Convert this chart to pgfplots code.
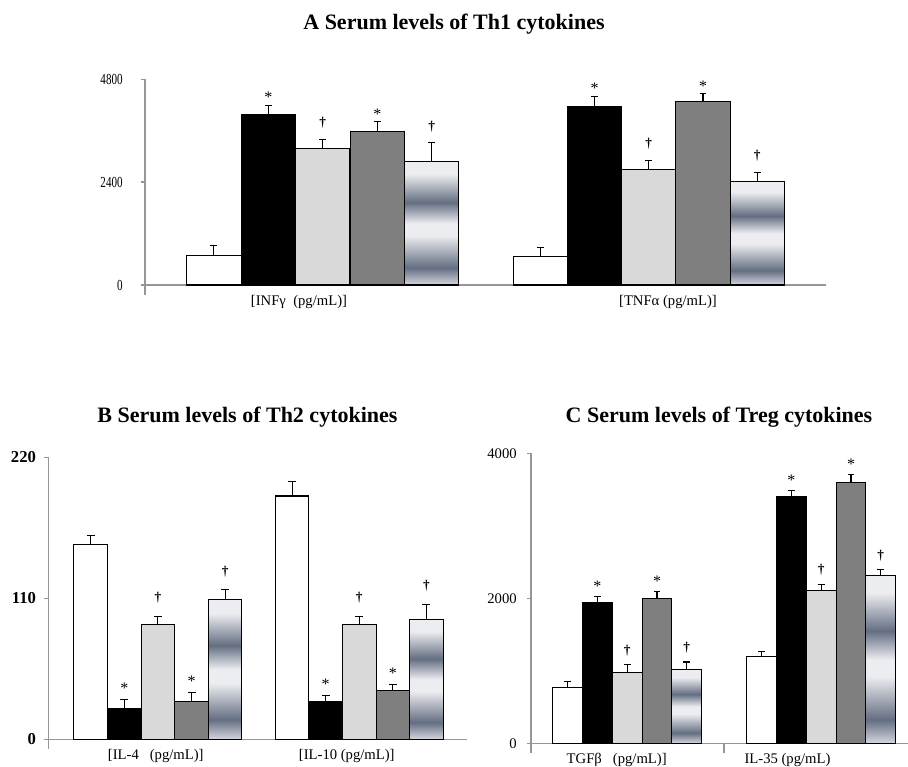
\documentclass[border=0pt]{standalone}
\usepackage{pgfplots}
\pgfplotsset{compat=1.18}
\usepackage{pgfplotstable}
\usepackage{fontspec}
\setmainfont{Liberation Serif}
\definecolor{axisgray}{RGB}{150,150,150}
\definecolor{lgray}{RGB}{217,217,217}
\definecolor{dgray}{RGB}{127,127,127}
\definecolor{bandlt}{RGB}{236,237,240}
\definecolor{bandmid}{RGB}{212,215,222}
\definecolor{banddk}{RGB}{100,110,130}
\pgfdeclareverticalshading{bands}{100bp}{%
 color(0bp)=(bandmid); color(25bp)=(bandmid); color(32bp)=(banddk); color(45bp)=(bandlt);
 color(50bp)=(bandlt); color(58.5bp)=(banddk); color(70bp)=(bandlt); color(75bp)=(bandlt); color(100bp)=(bandlt)}

% ---------- A: Th1 (x in px from y axis) ----------
\pgfplotstableread{
x y e
68.9 683 232
395.4 660 218
}\Awhite
\pgfplotstableread{
x y e
123.4 3977 217
449.6 4155 249
}\Ablack
\pgfplotstableread{
x y e
177.8 3185 217
503.8 2696 217
}\Algray
\pgfplotstableread{
x y e
232.3 3572 233
558.0 4272 194
}\Adgray
\pgfplotstableread{
x y e
286.8 2873 443
612.2 2407 210
}\Agrad
% ---------- B: Th2 ----------
\pgfplotstableread{
x y e
42.5 152.1 6.5
243.8 189.8 11.5
}\Bwhite
\pgfplotstableread{
x y e
76.1 23.9 7.3
277.4 29.3 5.0
}\Bblack
\pgfplotstableread{
x y e
109.7 89.4 6.6
311.0 89.4 6.6
}\Blgray
\pgfplotstableread{
x y e
143.3 29.1 7.3
344.6 37.7 4.7
}\Bdgray
\pgfplotstableread{
x y e
176.9 109.2 7.3
378.2 93.6 11.7
}\Bgrad
% ---------- C: Treg ----------
\pgfplotstableread{
x y e
36.6 772 74
230.6 1195 74
}\Cwhite
\pgfplotstableread{
x y e
66.4 1940 88
260.4 3397 88
}\Cblack
\pgfplotstableread{
x y e
96.2 974 110
290.2 2101 92
}\Clgray
\pgfplotstableread{
x y e
126.0 1991 106
320.0 3600 110
}\Cdgray
\pgfplotstableread{
x y e
155.8 1011 110
349.8 2308 87
}\Cgrad

\pgfplotsset{
 panel/.style={scale only axis, anchor=south west, xmin=0,
  axis y line*=left, axis x line*=middle,
  axis line style={draw=axisgray, line width=1pt},
  tick align=outside, major tick length=3pt,
  ytick style={draw=axisgray, line width=1pt},
  xtick style={draw=none},
  hide obscured x ticks=false, hide obscured y ticks=false,
  clip=false,
  xticklabel style={font=\fontsize{11}{11}\selectfont, inner sep=0pt, anchor=north, yshift=-4.5pt},
 },
 sbar/.style={ybar, bar shift=0pt, bar width=#1, draw=black, line width=0.8pt},
 gbar/.style={ybar, bar shift=0pt, bar width=#1, draw=black, line width=0.8pt, shading=bands},
 err/.style={draw=none, mark=none, black, line width=0.8pt,
   error bars/.cd, y dir=plus, y explicit,
   error bar style={draw=black, line width=0.8pt},
   error mark options={rotate=90, draw=black, line width=0.8pt, mark size=#1}},
 ast/.style={draw=none, mark=none, nodes near coords={*},
   every node near coord/.append style={anchor=south, inner sep=0pt, yshift=#1, font=\fontsize{12}{12}\selectfont}},
 dag/.style={draw=none, mark=none, nodes near coords={†},
   every node near coord/.append style={anchor=south, inner sep=0pt, yshift=#1, font=\bfseries\fontsize{10}{10}\selectfont}},
}

\begin{document}
\begin{tikzpicture}
\path[use as bounding box] (0,0) rectangle (681pt,575.25pt);

\node[anchor=base, font=\bfseries\fontsize{16.5}{16.5}\selectfont] at (340.5pt,552.75pt) {A Serum levels of Th1 cytokines};
\node[anchor=base, font=\bfseries\fontsize{16.5}{16.5}\selectfont] at (185.6pt,258pt) {B Serum levels of Th2 cytokines};
\node[anchor=base, font=\bfseries\fontsize{16.5}{16.5}\selectfont] at (539.25pt,258pt) {C Serum levels of Treg cytokines};

% ================= A =================
\begin{axis}[panel, at={(108.75pt,354pt)}, width=510.75pt, height=161.8pt,
  xmax=681, ymin=-233.3, ymax=4800,
  ytick={0,2400,4800}, yticklabels={0,2400,4800},
  yticklabel style={font=\fontsize{11.5}{11.5}\selectfont, xscale=0.72, inner sep=0pt, anchor=east, xshift=-19pt},
  xtick={154,523}, xticklabels={{[INFγ\ \ (pg/mL)]},{[TNFα (pg/mL)]}}]
\addplot[sbar=54.3, fill=white] table[x=x,y=y] {\Awhite};
\addplot[sbar=54.3, fill=black] table[x=x,y=y] {\Ablack};
\addplot[sbar=54.3, fill=lgray] table[x=x,y=y] {\Algray};
\addplot[sbar=54.3, fill=dgray] table[x=x,y=y] {\Adgray};
\addplot[gbar=54.3, skip coords between index={1}{2}] table[x=x,y=y] {\Agrad};
\addplot[gbar=54.3, skip coords between index={0}{1}] table[x=x,y=y] {\Agrad};
\addplot[err=2.6pt] table[x=x,y=y,y error=e] {\Awhite};
\addplot[err=2.6pt] table[x=x,y=y,y error=e] {\Ablack};
\addplot[err=2.6pt] table[x=x,y=y,y error=e] {\Algray};
\addplot[err=2.6pt] table[x=x,y=y,y error=e] {\Adgray};
\addplot[err=2.6pt] table[x=x,y=y,y error=e] {\Agrad};
\addplot[ast=1.5pt] table[x=x,y expr=\thisrow{y}+\thisrow{e}] {\Ablack};
\addplot[ast=1.5pt] table[x=x,y expr=\thisrow{y}+\thisrow{e}] {\Adgray};
\addplot[dag=8.25pt] table[x=x,y expr=\thisrow{y}+\thisrow{e}] {\Algray};
\addplot[dag=8.25pt] table[x=x,y expr=\thisrow{y}+\thisrow{e}] {\Agrad};
\end{axis}

% ================= B =================
\begin{axis}[panel, at={(36.2pt,13.3pt)}, width=314pt, height=219pt,
  xmax=418.7, ymin=-7.8, ymax=220,
  ytick={0,110,220}, yticklabels={0,110,220},
  yticklabel style={font=\bfseries\fontsize{12.5}{12.5}\selectfont, inner sep=0pt, anchor=east, xshift=-6pt},
  xtick={107.5,298.5}, xticklabels={{[IL-4\ \ \ (pg/mL)]},{[IL-10 (pg/mL)]}}]
\addplot[sbar=33.6, fill=white] table[x=x,y=y] {\Bwhite};
\addplot[sbar=33.6, fill=black] table[x=x,y=y] {\Bblack};
\addplot[sbar=33.6, fill=lgray] table[x=x,y=y] {\Blgray};
\addplot[sbar=33.6, fill=dgray] table[x=x,y=y] {\Bdgray};
\addplot[gbar=33.6, skip coords between index={1}{2}] table[x=x,y=y] {\Bgrad};
\addplot[gbar=33.6, skip coords between index={0}{1}] table[x=x,y=y] {\Bgrad};
\addplot[err=3pt] table[x=x,y=y,y error=e] {\Bwhite};
\addplot[err=3pt] table[x=x,y=y,y error=e] {\Bblack};
\addplot[err=3pt] table[x=x,y=y,y error=e] {\Blgray};
\addplot[err=3pt] table[x=x,y=y,y error=e] {\Bdgray};
\addplot[err=3pt] table[x=x,y=y,y error=e] {\Bgrad};
\addplot[ast=4.5pt] table[x=x,y expr=\thisrow{y}+\thisrow{e}] {\Bblack};
\addplot[ast=4.5pt] table[x=x,y expr=\thisrow{y}+\thisrow{e}] {\Bdgray};
\addplot[dag=9.75pt] table[x=x,y expr=\thisrow{y}+\thisrow{e}] {\Blgray};
\addplot[dag=9.75pt] table[x=x,y expr=\thisrow{y}+\thisrow{e}] {\Bgrad};
\end{axis}

% ================= C =================
\begin{axis}[panel, at={(398.25pt,10.3pt)}, width=282.75pt, height=225pt,
  xmax=377, ymin=-137.9, ymax=4000,
  ytick={0,2000,4000}, yticklabels={0,2000,4000},
  yticklabel style={font=\fontsize{11}{11}\selectfont, inner sep=0pt, anchor=east, xshift=-7.5pt},
  xtick={85.7,256.5}, xticklabels={{TGFβ\ \ \ (pg/mL)]},{IL-35 (pg/mL)}},
  extra x ticks={193}, extra x tick labels={},
  extra x tick style={xtick style={draw=axisgray, line width=1pt}, major tick length=7.5pt, tick align=outside}]
\addplot[sbar=29.8, fill=white] table[x=x,y=y] {\Cwhite};
\addplot[sbar=29.8, fill=black] table[x=x,y=y] {\Cblack};
\addplot[sbar=29.8, fill=lgray] table[x=x,y=y] {\Clgray};
\addplot[sbar=29.8, fill=dgray] table[x=x,y=y] {\Cdgray};
\addplot[gbar=29.8, skip coords between index={1}{2}] table[x=x,y=y] {\Cgrad};
\addplot[gbar=29.8, skip coords between index={0}{1}] table[x=x,y=y] {\Cgrad};
\addplot[err=2.6pt] table[x=x,y=y,y error=e] {\Cwhite};
\addplot[err=2.6pt] table[x=x,y=y,y error=e] {\Cblack};
\addplot[err=2.6pt] table[x=x,y=y,y error=e] {\Clgray};
\addplot[err=2.6pt] table[x=x,y=y,y error=e] {\Cdgray};
\addplot[err=2.6pt] table[x=x,y=y,y error=e] {\Cgrad};
\addplot[ast=3.5pt] table[x=x,y expr=\thisrow{y}+\thisrow{e}] {\Cblack};
\addplot[ast=3.5pt] table[x=x,y expr=\thisrow{y}+\thisrow{e}] {\Cdgray};
\addplot[dag=6.5pt] table[x=x,y expr=\thisrow{y}+\thisrow{e}] {\Clgray};
\addplot[dag=6.5pt] table[x=x,y expr=\thisrow{y}+\thisrow{e}] {\Cgrad};
\end{axis}
\end{tikzpicture}
\end{document}
